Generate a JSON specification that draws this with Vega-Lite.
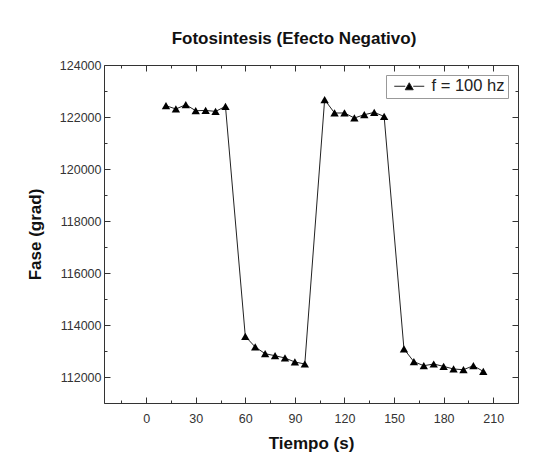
{
  "$schema": "https://vega.github.io/schema/vega-lite/v6.json",
  "width": 414,
  "height": 338,
  "autosize": "none",
  "padding": {"left": 104, "top": 65, "right": 21, "bottom": 70},
  "background": "white",
  "config": {
    "font": "Liberation Sans",
    "view": {"stroke": null},
    "axis": {
      "grid": false,
      "domainColor": "#333",
      "tickColor": "#333",
      "labelColor": "#333",
      "labelFont": "Liberation Sans",
      "labelFontSize": 12.5,
      "titleFont": "Liberation Sans",
      "titleFontSize": 17,
      "titleFontWeight": "bold",
      "titleColor": "#111"
    }
  },
  "title": {
    "text": "Fotosintesis (Efecto Negativo)",
    "font": "Liberation Sans",
    "fontSize": 17,
    "fontWeight": "bold",
    "color": "#111",
    "anchor": "middle",
    "dx": -17,
    "offset": 11
  },
  "data": {
    "values": [
      {"t": 12, "fase": 122435, "s": "f = 100 hz"},
      {"t": 18, "fase": 122308, "s": "f = 100 hz"},
      {"t": 24, "fase": 122473, "s": "f = 100 hz"},
      {"t": 30, "fase": 122242, "s": "f = 100 hz"},
      {"t": 36, "fase": 122254, "s": "f = 100 hz"},
      {"t": 42, "fase": 122215, "s": "f = 100 hz"},
      {"t": 48, "fase": 122408, "s": "f = 100 hz"},
      {"t": 60, "fase": 113562, "s": "f = 100 hz"},
      {"t": 66, "fase": 113154, "s": "f = 100 hz"},
      {"t": 72, "fase": 112896, "s": "f = 100 hz"},
      {"t": 78, "fase": 112819, "s": "f = 100 hz"},
      {"t": 84, "fase": 112731, "s": "f = 100 hz"},
      {"t": 90, "fase": 112577, "s": "f = 100 hz"},
      {"t": 96, "fase": 112500, "s": "f = 100 hz"},
      {"t": 108, "fase": 122665, "s": "f = 100 hz"},
      {"t": 114, "fase": 122154, "s": "f = 100 hz"},
      {"t": 120, "fase": 122154, "s": "f = 100 hz"},
      {"t": 126, "fase": 121962, "s": "f = 100 hz"},
      {"t": 132, "fase": 122088, "s": "f = 100 hz"},
      {"t": 138, "fase": 122177, "s": "f = 100 hz"},
      {"t": 144, "fase": 122023, "s": "f = 100 hz"},
      {"t": 156, "fase": 113077, "s": "f = 100 hz"},
      {"t": 162, "fase": 112588, "s": "f = 100 hz"},
      {"t": 168, "fase": 112435, "s": "f = 100 hz"},
      {"t": 174, "fase": 112500, "s": "f = 100 hz"},
      {"t": 180, "fase": 112408, "s": "f = 100 hz"},
      {"t": 186, "fase": 112308, "s": "f = 100 hz"},
      {"t": 192, "fase": 112281, "s": "f = 100 hz"},
      {"t": 198, "fase": 112435, "s": "f = 100 hz"},
      {"t": 204, "fase": 112215, "s": "f = 100 hz"}
    ]
  },
  "layer": [
    {
      "mark": {"type": "line", "color": "#222", "strokeWidth": 1},
      "encoding": {
        "x": {
          "field": "t",
          "type": "quantitative",
          "scale": {"domain": [-25.5, 225], "nice": false, "zero": false},
          "axis": {
            "orient": "bottom",
            "title": "Tiempo (s)",
            "values": [-15, 0, 15, 30, 45, 60, 75, 90, 105, 120, 135, 150, 165, 180, 195, 210],
            "labelExpr": "datum.value % 30 == 0 ? datum.label : ''",
            "tickSize": {"condition": {"test": "datum.value % 30 == 0", "value": -6}, "value": -3},
            "labelPadding": 15,
            "titlePadding": 11
          }
        },
        "y": {
          "field": "fase",
          "type": "quantitative",
          "scale": {"domain": [111000, 124000], "nice": false, "zero": false},
          "axis": {
            "orient": "left",
            "title": "Fase (grad)",
            "format": "d",
            "values": [111000, 112000, 113000, 114000, 115000, 116000, 117000, 118000, 119000, 120000, 121000, 122000, 123000, 124000],
            "labelExpr": "datum.value % 2000 == 0 ? datum.label : ''",
            "tickSize": {"condition": {"test": "datum.value % 2000 == 0", "value": -6}, "value": -3},
            "labelPadding": 9,
            "titlePadding": 15
          }
        }
      }
    },
    {
      "mark": {"type": "point", "shape": "triangle-up", "filled": true, "size": 70, "opacity": 1},
      "encoding": {
        "x": {
          "field": "t",
          "type": "quantitative",
          "axis": {
            "orient": "top",
            "title": null,
            "labels": false,
            "values": [-15, 0, 15, 30, 45, 60, 75, 90, 105, 120, 135, 150, 165, 180, 195, 210],
            "tickSize": {"condition": {"test": "datum.value % 30 == 0", "value": -6}, "value": -3}
          }
        },
        "y": {
          "field": "fase",
          "type": "quantitative",
          "axis": {
            "orient": "right",
            "title": null,
            "labels": false,
            "values": [111000, 112000, 113000, 114000, 115000, 116000, 117000, 118000, 119000, 120000, 121000, 122000, 123000, 124000],
            "tickSize": {"condition": {"test": "datum.value % 2000 == 0", "value": -6}, "value": -3}
          }
        },
        "color": {
          "field": "s",
          "type": "nominal",
          "scale": {"range": ["black"]},
          "legend": {
            "title": null,
            "orient": "top-right",
            "offset": 10,
            "symbolType": "M-3,0H-0.8M0.8,0H3M-0.8,0.7L0,-0.7L0.8,0.7Z",
            "symbolSize": 100,
            "symbolFillColor": "black",
            "symbolStrokeColor": "#222",
            "symbolStrokeWidth": 1,
            "symbolOffset": 12,
            "labelOffset": 14,
            "labelFont": "Liberation Sans",
            "labelFontSize": 16.5,
            "labelColor": "#222",
            "strokeColor": "#999",
            "fillColor": "white",
            "padding": 3
          }
        }
      }
    }
  ],
  "resolve": {"axis": {"x": "independent", "y": "independent"}}
}
